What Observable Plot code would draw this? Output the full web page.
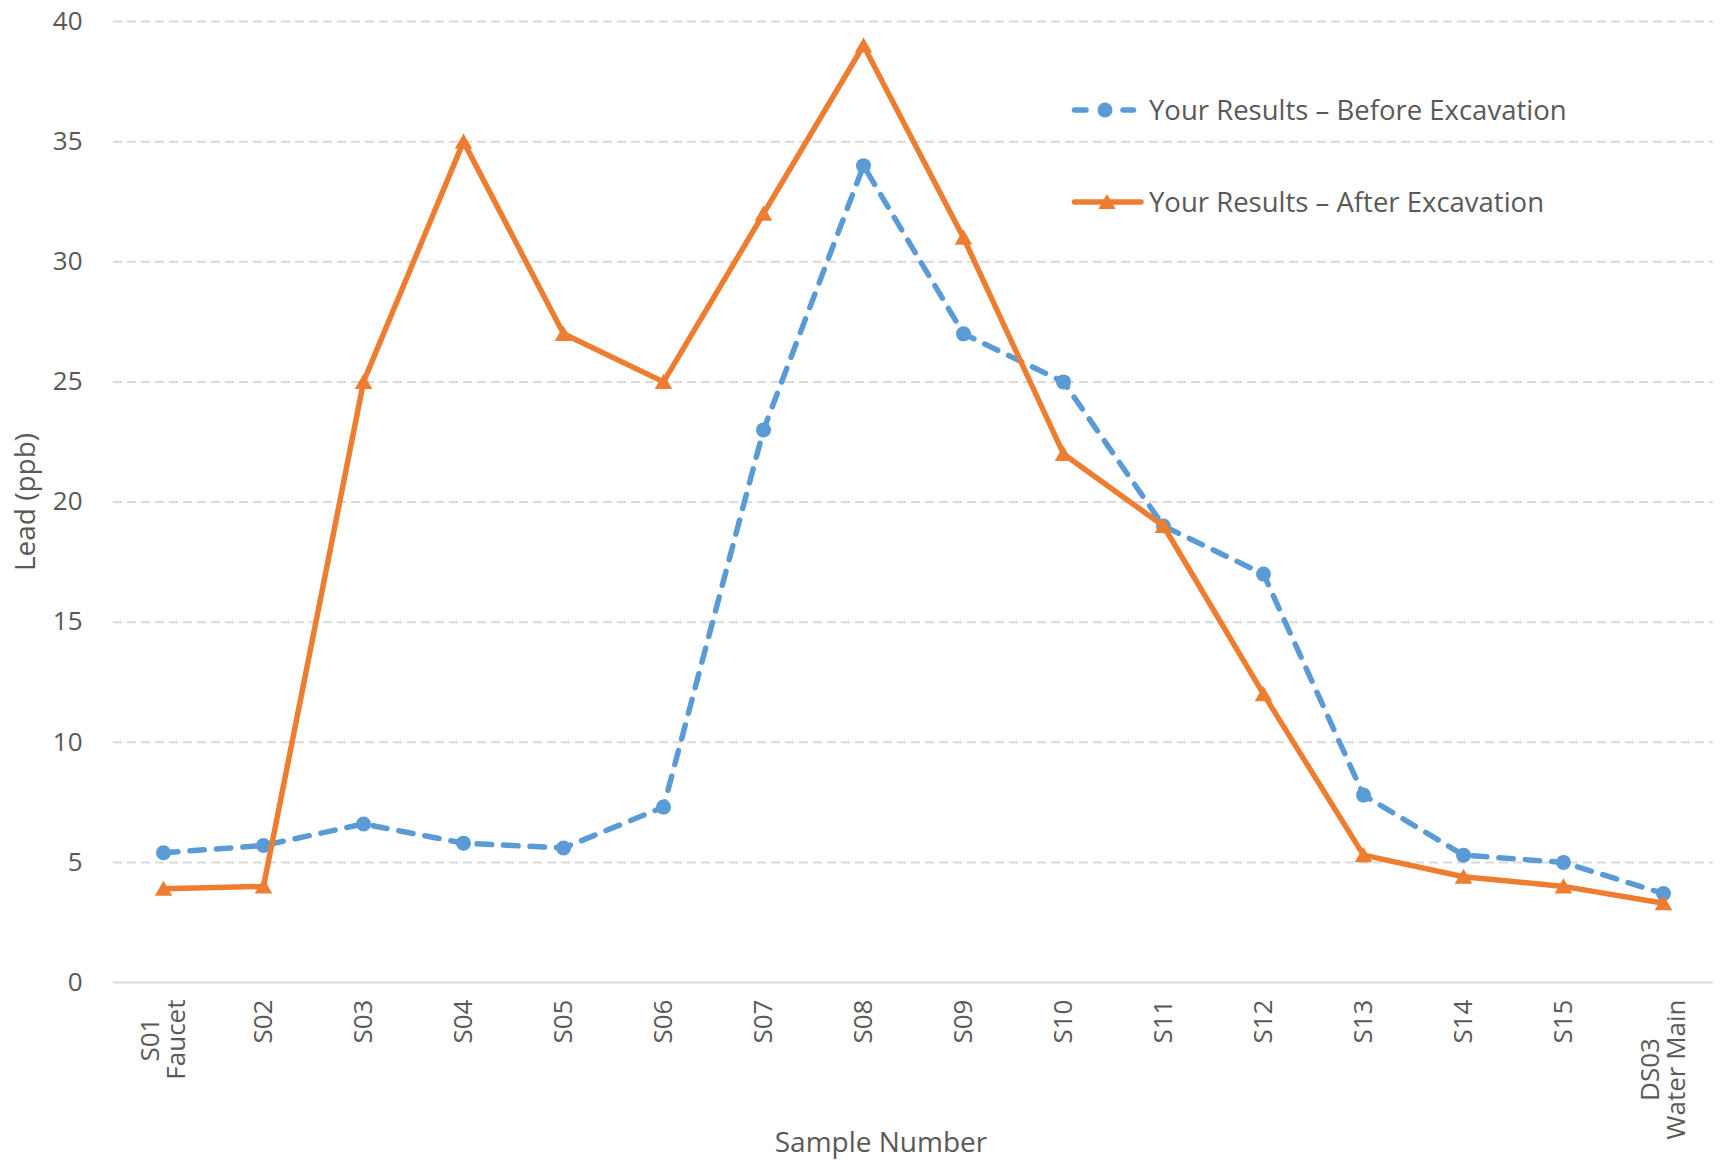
<!DOCTYPE html>
<html>
<head>
<meta charset="utf-8">
<script src="https://cdn.jsdelivr.net/npm/d3@7"></script>
<script src="https://cdn.jsdelivr.net/npm/@observablehq/plot@0.6"></script>
<style>
html, body { margin: 0; padding: 0; background: #fff; }
#wrap { position: relative; width: 1723px; height: 1160px; font-family: "Open Sans", sans-serif; color: #595959; }
#wrap svg.plot { display: block; }
.ttl { position: absolute; font-size: 28px; white-space: nowrap; line-height: 1; transform: translate(-50%, -50%); }
.ytitle { transform: translate(-50%, -50%) rotate(-90deg); }
.legsw { position: absolute; }
.legtx { position: absolute; font-size: 27.5px; white-space: nowrap; line-height: 1; transform: translateY(-50%); }
</style>
</head>
<body>
<div id="wrap"></div>
<script>
// ---- data ----
const samples = ["S01\nFaucet", "S02", "S03", "S04", "S05", "S06", "S07", "S08", "S09", "S10", "S11", "S12", "S13", "S14", "S15", "DS03\nWater Main"];
const beforeValues = [5.4, 5.7, 6.6, 5.8, 5.6, 7.3, 23, 34, 27, 25, 19, 17, 7.8, 5.3, 5.0, 3.7];
const afterValues = [3.9, 4.0, 25, 35, 27, 25, 32, 39, 31, 22, 19, 12, 5.3, 4.4, 4.0, 3.3];
const yTicks = [0, 5, 10, 15, 20, 25, 30, 35, 40];
const seriesNames = ["Your Results \u2013 Before Excavation", "Your Results \u2013 After Excavation"];
const seriesColors = ["#5B9BD5", "#ED7D31"];
const xTitle = "Sample Number";
const yTitle = "Lead (ppb)";

const beforeData = samples.map((s, i) => ({sample: s, lead: beforeValues[i]}));
const afterData = samples.map((s, i) => ({sample: s, lead: afterValues[i]}));

const chart = Plot.plot({
  width: 1723,
  height: 1160,
  marginLeft: 113,
  marginRight: 10,
  marginTop: 21,
  marginBottom: 178,
  style: {fontFamily: '"Open Sans", sans-serif', fontSize: "26px", color: "#595959", background: "#fff", overflow: "visible"},
  x: {type: "point", domain: samples, padding: 0.5, tickSize: 0, tickPadding: 17, tickRotate: -90, label: null},
  y: {domain: [0, 40], ticks: yTicks, tickSize: 0, tickPadding: 31, label: null},
  marks: [
    Plot.ruleY(yTicks.filter(d => d > 0), {stroke: "#D9D9D9", strokeWidth: 2, strokeDasharray: "9,5"}),
    Plot.ruleY([0], {stroke: "#D9D9D9", strokeWidth: 2}),
    Plot.line(beforeData, {x: "sample", y: "lead", stroke: seriesColors[0], strokeWidth: 5.5, strokeDasharray: "14.5,12", strokeLinecap: "round", strokeLinejoin: "round"}),
    Plot.dot(beforeData, {x: "sample", y: "lead", r: 7.5, fill: seriesColors[0], symbol: "circle"}),
    Plot.line(afterData, {x: "sample", y: "lead", stroke: seriesColors[1], strokeWidth: 5.5, strokeLinejoin: "round"}),
    Plot.dot(afterData, {x: "sample", y: "lead", r: 6.5, dy: 2, fill: seriesColors[1], symbol: "triangle"})
  ]
});

const wrap = document.getElementById("wrap");
wrap.appendChild(chart);

// center multi-line x tick labels within their block (block top-aligned under the axis)
chart.querySelectorAll('g[aria-label="x-axis tick label"] text, g[aria-label="x-axis"] text').forEach(t => {
  const spans = t.querySelectorAll("tspan");
  if (spans.length > 1) {
    const L = Math.max(...Array.from(spans, s => s.getComputedTextLength()));
    t.setAttribute("text-anchor", "middle");
    spans.forEach(s => s.setAttribute("x", -L / 2));
  }
});

// axis titles
const xt = document.createElement("div");
xt.className = "ttl";
xt.style.left = "881px";
xt.style.top = "1141px";
xt.textContent = xTitle;
wrap.appendChild(xt);

const yt = document.createElement("div");
yt.className = "ttl ytitle";
yt.style.left = "24px";
yt.style.top = "502px";
yt.textContent = yTitle;
wrap.appendChild(yt);

// legend
const NS = "http://www.w3.org/2000/svg";
const legTops = [110, 202];
seriesNames.forEach((name, i) => {
  const sw = document.createElementNS(NS, "svg");
  sw.setAttribute("class", "legsw");
  sw.setAttribute("width", 80);
  sw.setAttribute("height", 24);
  sw.style.left = "1066px";
  sw.style.top = (legTops[i] - 12) + "px";
  const col = seriesColors[i];
  if (i === 0) {
    sw.innerHTML =
      `<line x1="8.5" y1="12" x2="20" y2="12" stroke="${col}" stroke-width="5.5" stroke-linecap="round"/>` +
      `<circle cx="39" cy="12" r="7.5" fill="${col}"/>` +
      `<line x1="57" y1="12" x2="67.5" y2="12" stroke="${col}" stroke-width="5.5" stroke-linecap="round"/>`;
  } else {
    const sym = d3.symbol(d3.symbolTriangle, 6.5 * 6.5 * Math.PI)();
    sw.innerHTML =
      `<line x1="8.5" y1="12" x2="75" y2="12" stroke="${col}" stroke-width="5.5" stroke-linecap="round"/>` +
      `<path d="${sym}" transform="translate(41,14)" fill="${col}"/>`;
  }
  wrap.appendChild(sw);
  const tx = document.createElement("div");
  tx.className = "legtx";
  tx.style.left = "1149px";
  tx.style.top = legTops[i] + "px";
  tx.textContent = name;
  wrap.appendChild(tx);
});
</script>
</body>
</html>
